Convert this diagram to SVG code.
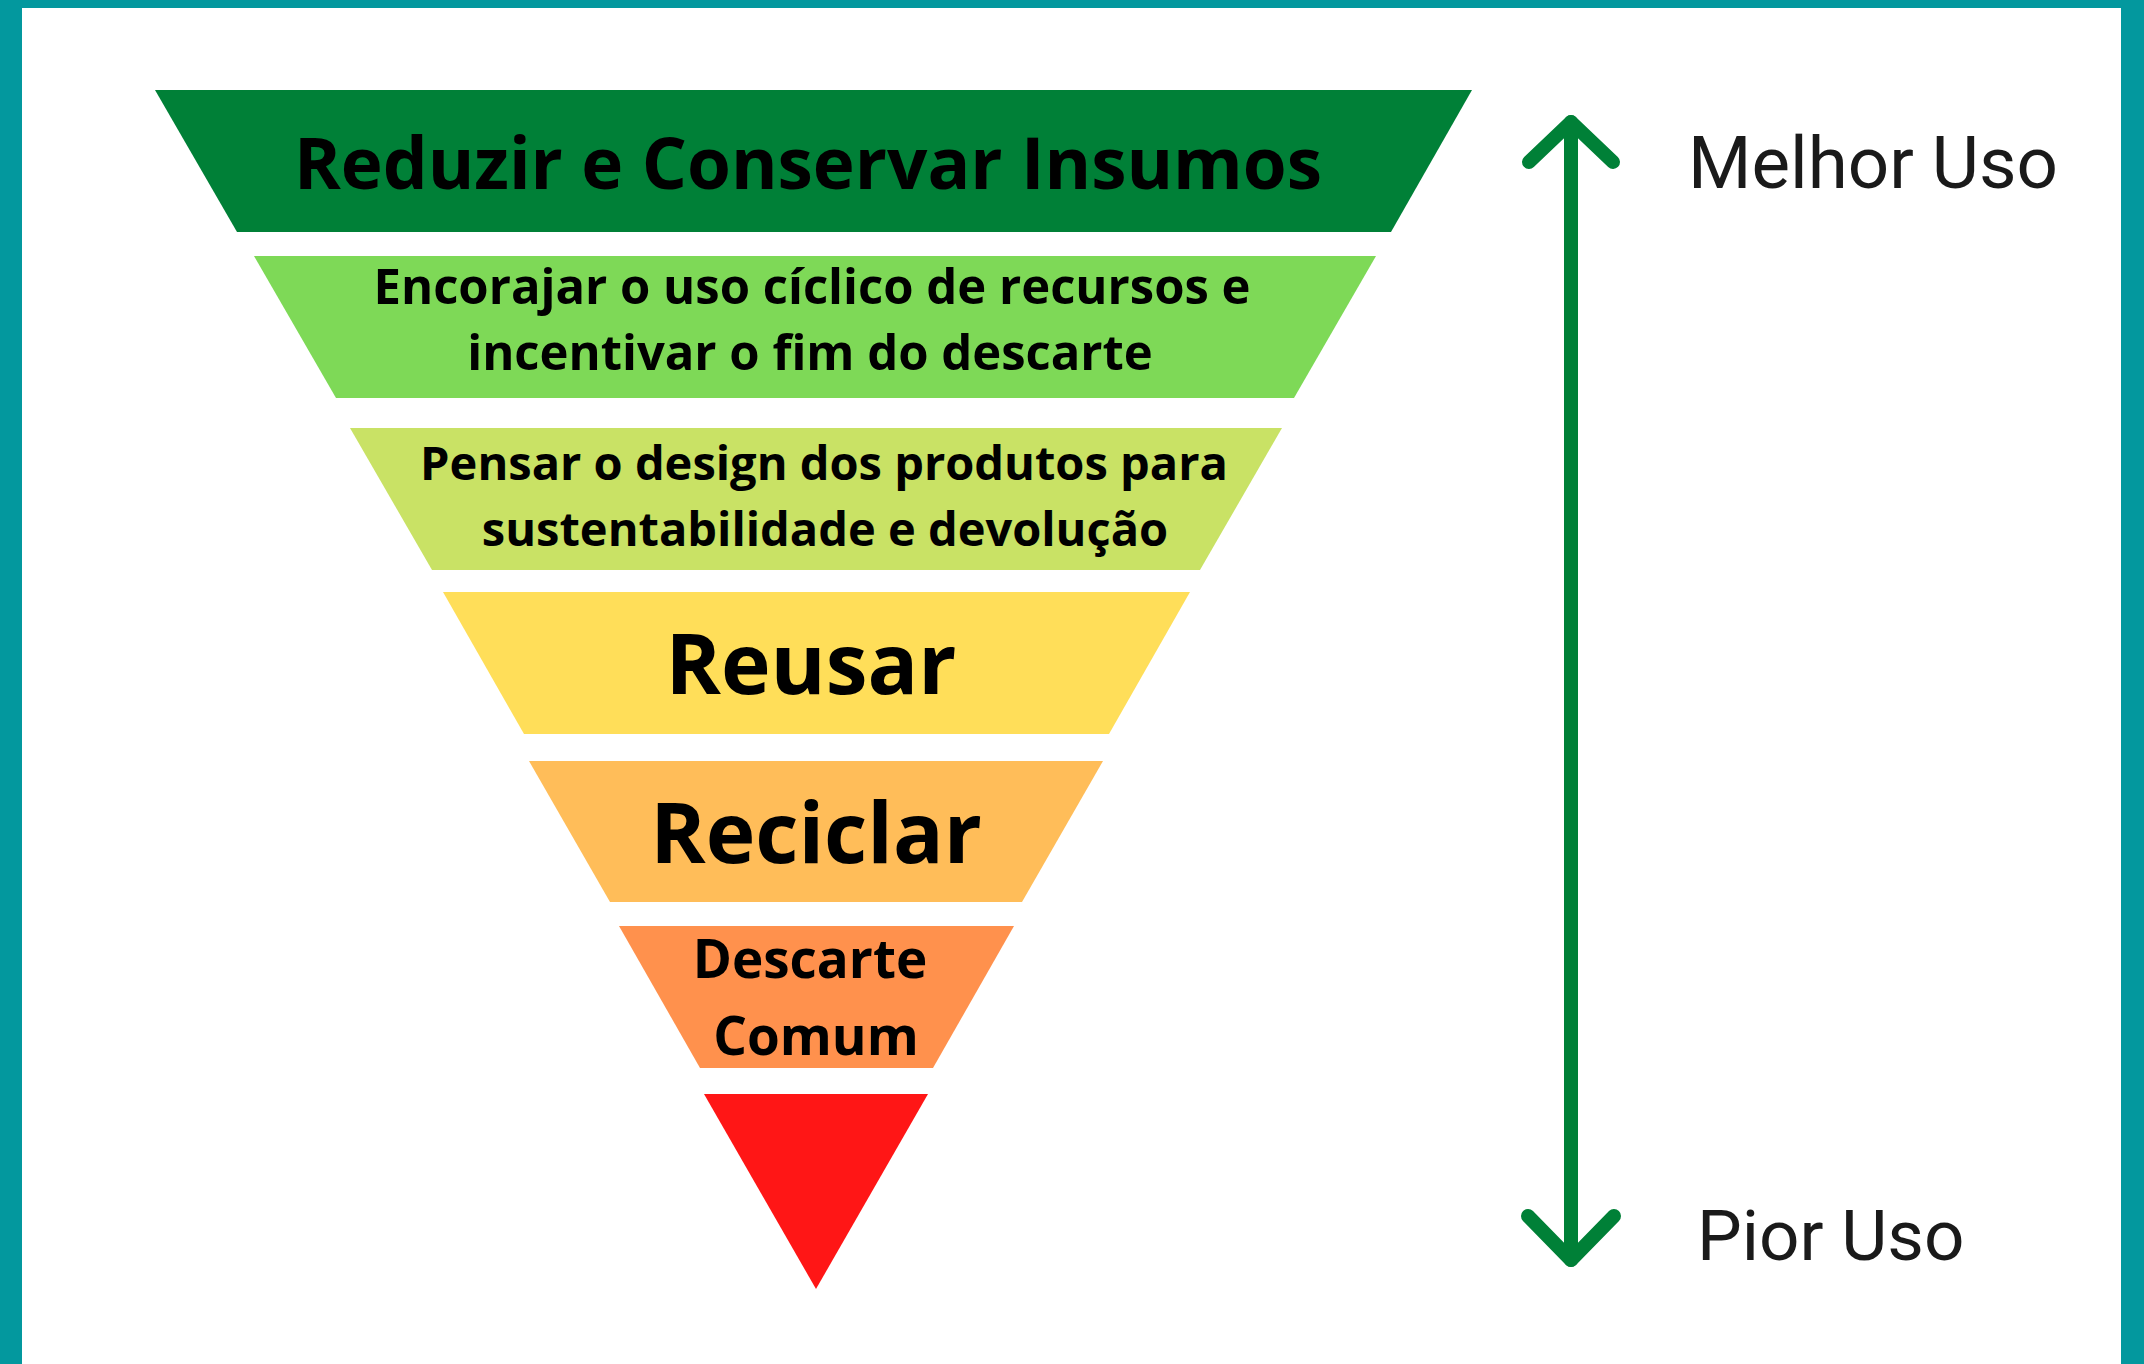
<svg xmlns="http://www.w3.org/2000/svg" width="2144" height="1364" viewBox="0 0 2144 1364">
  <style>
    .lbl { font-family: "Open Sans", "Liberation Sans", sans-serif; font-weight: 700; fill: #000000; text-anchor: middle; }
    .side { font-family: Roboto, "Liberation Sans", sans-serif; font-weight: 400; fill: #1a1a1a; }
    .arrow { fill: none; stroke: #008037; stroke-width: 14; stroke-linecap: round; stroke-linejoin: round; }
  </style>
  <rect x="0" y="0" width="2144" height="1364" fill="#03989E"/>
  <rect x="22" y="8" width="2099" height="1356" fill="#ffffff"/>

  <g id="band-reduzir">
    <polygon points="155,90 1472,90 1391,232 237,232" fill="#008037"/>
    <text class="lbl" x="808" y="189" font-size="71">Reduzir e Conservar Insumos</text>
  </g>
  <g id="band-encorajar">
    <polygon points="254,256 1376,256 1294,398 336,398" fill="#7ED957"/>
    <text class="lbl" x="812" y="304" font-size="49">Encorajar o uso cíclico de recursos e</text>
    <text class="lbl" x="810" y="370" font-size="49">incentivar o fim do descarte</text>
  </g>
  <g id="band-pensar">
    <polygon points="350,428 1282,428 1200,570 432,570" fill="#C9E265"/>
    <text class="lbl" x="824" y="480" font-size="47">Pensar o design dos produtos para</text>
    <text class="lbl" x="825" y="546" font-size="47">sustentabilidade e devolução</text>
  </g>
  <g id="band-reusar">
    <polygon points="443,592 1190,592 1109,734 524,734" fill="#FFDE59"/>
    <text class="lbl" x="811" y="694" font-size="84">Reusar</text>
  </g>
  <g id="band-reciclar">
    <polygon points="529,761 1103,761 1022,902 610,902" fill="#FFBD59"/>
    <text class="lbl" x="816" y="863" font-size="84">Reciclar</text>
  </g>
  <g id="band-descarte">
    <polygon points="619,926 1014,926 933,1068 700,1068" fill="#FF914D"/>
    <text class="lbl" x="810" y="978" font-size="53">Descarte</text>
    <text class="lbl" x="816" y="1055" font-size="53">Comum</text>
  </g>
  <g id="band-bottom">
    <polygon points="704,1094 928,1094 816,1289" fill="#FF1616"/>
  </g>

  <g id="connectors">
    <path class="arrow" d="M1571,1260 L1571,122"/>
    <path class="arrow" d="M1529,162 L1571,122 L1613,162"/>
    <path class="arrow" d="M1528,1216 L1571,1260 L1614,1216"/>
  </g>

  <g id="label-melhor">
    <text class="side" x="1688" y="188" font-size="72" textLength="370" lengthAdjust="spacingAndGlyphs">Melhor Uso</text>
  </g>
  <g id="label-pior">
    <text class="side" x="1697" y="1260" font-size="71">Pior Uso</text>
  </g>
</svg>
